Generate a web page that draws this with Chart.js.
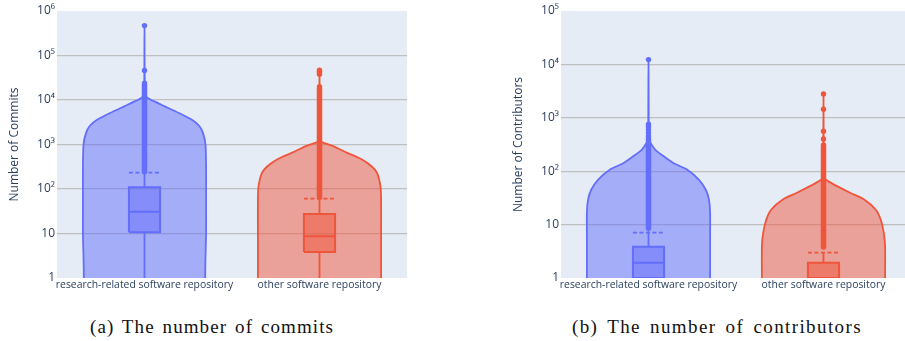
<!DOCTYPE html>
<html>
<head>
<meta charset="utf-8">
<title>Commits and contributors</title>
<script src="https://cdn.jsdelivr.net/npm/chart.js@4.4.0/dist/chart.umd.min.js"></script>
<style>
  html, body { margin: 0; padding: 0; background: #fff; overflow: hidden; width: 905px; height: 341px; }
  .panel { position: absolute; top: 0; width: 420px; height: 300px; }
  #panelA { left: 0; }
  #panelB { left: 504px; }
  .caption {
    position: absolute; top: 316px; transform: translateX(-50%);
    font-family: "Liberation Serif", "DejaVu Serif", serif; font-size: 19px;
    letter-spacing: 1.1px; word-spacing: 2px; color: #111; white-space: nowrap;
  }
</style>
</head>
<body>
<div class="panel" id="panelA"><canvas id="commitsChart" width="420" height="300"></canvas></div>
<div class="panel" id="panelB"><canvas id="contributorsChart" width="420" height="300"></canvas></div>
<div class="caption" style="left:212px">(a) The number of commits</div>
<div class="caption" style="left:717px; letter-spacing:1.4px; word-spacing:3px">(b) The number of contributors</div>

<script>
// categories shared by both panels
const categories = ['research-related software repository', 'other software repository'];

// y-axis ticks
const commitTicks = [1, 10, 100, 1000, 10000, 100000, 1000000];
const contributorTicks = [1, 10, 100, 1000, 10000, 100000];

// violin outlines: value along the axis and relative density (1 = widest)
const commitsResearchKdeValues  = [0.5, 1, 3, 10, 30, 100, 300, 1000, 1800, 2600, 3600, 5100, 7200, 9300, 11000, 12500, 20000, 470000];
const commitsResearchKdeDensity = [0.985, 0.985, 0.99, 1, 1, 1, 1, 0.99, 0.95, 0.89, 0.77, 0.56, 0.33, 0.16, 0.06, 0.015, 0.004, 0];
const commitsOtherKdeValues  = [0.5, 1, 10, 60, 115, 230, 320, 460, 650, 910, 1070, 1200, 3000, 48000];
const commitsOtherKdeDensity = [1, 1, 1, 1, 0.99, 0.935, 0.85, 0.69, 0.45, 0.23, 0.08, 0.02, 0.005, 0];
const contributorsResearchKdeValues  = [0.5, 1, 5, 17, 30, 45, 69, 107, 141, 190, 251, 340, 380, 800, 12300];
const contributorsResearchKdeDensity = [1, 1, 1, 1, 0.98, 0.93, 0.82, 0.63, 0.41, 0.25, 0.11, 0.03, 0.01, 0.004, 0];
const contributorsOtherKdeValues  = [0.5, 1, 3.9, 6.9, 12.3, 19, 29.5, 39, 52.5, 64.5, 74, 150, 2800];
const contributorsOtherKdeDensity = [1, 1, 1, 0.98, 0.93, 0.85, 0.66, 0.44, 0.22, 0.08, 0.02, 0.005, 0];

// box stats: [min, q1, median, q3, upper whisker]
const commitsResearchBox = [1, 10.6, 31, 109, 234];
const commitsOtherBox = [1, 3.84, 8.65, 27.5, 60];
const contributorsResearchBox = [1, 1, 1.94, 3.86, 7.5];
const contributorsOtherBox = [1, 1, 1, 1.94, 3];

// means (dashed line)
const commitsMeans = [234, 60.6];
const contributorsMeans = [7.05, 2.98];

// outliers: dense run [from, to] plus single points above it
const commitsResearchOutlierRun = [245, 22000];
const commitsResearchOutliers = [24000, 46000, 470000];
const commitsOtherOutlierRun = [64, 18000];
const commitsOtherOutliers = [20000, 38000, 41000, 44000, 47000];
const contributorsResearchOutlierRun = [8.5, 400];
const contributorsResearchOutliers = [450, 520, 600, 680, 760, 12300];
const contributorsOtherOutlierRun = [3.8, 290];
const contributorsOtherOutliers = [310, 400, 560, 1450, 2800];

const TEXT = '#2a3f5f';
const PLOT_BG = '#e5ecf6';
const GRID = '#bfbfbf';
const BLUE = '#636efa', BLUE_FILL = 'rgba(99,110,250,0.5)';
const RED = '#ef553b', RED_FILL = 'rgba(239,85,59,0.5)';
const HALF_VIOLIN = 0.352;
const HALF_BOX = 0.089;

const SUP = {'0': '\u2070', '1': '\u00b9', '2': '\u00b2', '3': '\u00b3', '4': '\u2074', '5': '\u2075', '6': '\u2076'};

function powLabel(v) {
    if (v < 100) return String(v);
    const e = String(Math.round(Math.log10(v)));
    return '10' + e.split('').map(d => SUP[d]).join('');
}

function lineSet(points, color, extra) {
    return Object.assign({
        data: points, showLine: true, borderColor: color, borderWidth: 1.8,
        pointRadius: 0, fill: false, tension: 0, clip: 0
    }, extra || {});
}

function violinSets(c, values, density, color, fillColor) {
    const left = values.map((v, i) => ({x: c - density[i] * HALF_VIOLIN, y: v}));
    const right = values.map((v, i) => ({x: c + density[i] * HALF_VIOLIN, y: v})).reverse();
    const outline = left.concat(right.slice(1)).concat([left[0]]);
    return [lineSet(outline, color, {backgroundColor: fillColor, fill: 'shape', tension: 0.22, order: 6})];
}

function boxSets(c, stats, mean, color, fillColor) {
    const [min, q1, med, q3, hi] = stats;
    const l = c - HALF_BOX, r = c + HALF_BOX;
    return [
        lineSet([{x: c, y: min}, {x: c, y: q1}], color, {order: 5}),
        lineSet([{x: c, y: q3}, {x: c, y: hi}], color, {order: 5}),
        lineSet([{x: l, y: q1}, {x: r, y: q1}, {x: r, y: q3}, {x: l, y: q3}, {x: l, y: q1}], color,
                {backgroundColor: fillColor, fill: 'shape', borderWidth: 2, borderJoinStyle: 'miter', order: 4}),
        lineSet([{x: l, y: med}, {x: r, y: med}], color, {borderWidth: 2, order: 3}),
        lineSet([{x: l, y: mean}, {x: r, y: mean}], color, {borderDash: [4, 2.5], order: 3})
    ];
}

function outlierSets(c, run, points, color) {
    return [
        lineSet([{x: c, y: run[0]}, {x: c, y: run[1]}], color, {borderWidth: 5.5, borderCapStyle: 'round', order: 2}),
        {
            data: points.map(v => ({x: c, y: v})), showLine: false,
            pointRadius: 2.7, pointBackgroundColor: color, pointBorderWidth: 0, clip: 0, order: 1
        }
    ];
}

const plotBackground = {
    id: 'plotBackground',
    beforeDraw(chart) {
        const a = chart.chartArea;
        chart.ctx.save();
        chart.ctx.fillStyle = PLOT_BG;
        chart.ctx.fillRect(a.left, a.top, a.right - a.left, a.bottom - a.top);
        chart.ctx.restore();
    }
};

function makeChart(canvasId, title, ticks, datasets) {
    const yMax = ticks[ticks.length - 1];
    return new Chart(document.getElementById(canvasId), {
        type: 'scatter',
        data: { datasets: datasets },
        plugins: [plotBackground],
        options: {
            responsive: false,
            animation: false,
            layout: { padding: { top: 11, right: 13, left: 0, bottom: 0 } },
            plugins: { legend: { display: false }, tooltip: { enabled: false } },
            scales: {
                x: {
                    type: 'linear', min: 0, max: 2,
                    grid: { display: false, drawTicks: false }, border: { display: false },
                    afterBuildTicks: s => { s.ticks = [{value: 0.5}, {value: 1.5}]; },
                    afterFit: s => { s.height = 22; },
                    ticks: {
                        callback: v => categories[Math.floor(v)],
                        color: TEXT, font: { family: '"Open Sans"', size: 10.4 },
                        padding: 1, maxRotation: 0, autoSkip: false
                    }
                },
                y: {
                    type: 'logarithmic', min: 1, max: yMax,
                    border: { display: false },
                    afterBuildTicks: s => { s.ticks = ticks.map(v => ({value: v})); },
                    afterFit: s => { s.width = 57; },
                    grid: {
                        drawTicks: false, lineWidth: 1.3,
                        color: ctx => (ctx.tick && (ctx.tick.value === 1 || ctx.tick.value === yMax)) ? 'rgba(0,0,0,0)' : GRID
                    },
                    ticks: {
                        callback: v => powLabel(v),
                        color: TEXT, font: { family: '"Open Sans"', size: 12 }, padding: 2, autoSkip: false
                    },
                    title: {
                        display: true, text: title, color: TEXT,
                        font: { family: '"Open Sans"', size: 12 }, padding: { top: 7, bottom: 0 }
                    }
                }
            }
        }
    });
}

const commitsData = [].concat(
    violinSets(0.5, commitsResearchKdeValues, commitsResearchKdeDensity, BLUE, BLUE_FILL),
    violinSets(1.5, commitsOtherKdeValues, commitsOtherKdeDensity, RED, RED_FILL),
    boxSets(0.5, commitsResearchBox, commitsMeans[0], BLUE, BLUE_FILL),
    boxSets(1.5, commitsOtherBox, commitsMeans[1], RED, RED_FILL),
    outlierSets(0.5, commitsResearchOutlierRun, commitsResearchOutliers, BLUE),
    outlierSets(1.5, commitsOtherOutlierRun, commitsOtherOutliers, RED)
);

const contributorsData = [].concat(
    violinSets(0.5, contributorsResearchKdeValues, contributorsResearchKdeDensity, BLUE, BLUE_FILL),
    violinSets(1.5, contributorsOtherKdeValues, contributorsOtherKdeDensity, RED, RED_FILL),
    boxSets(0.5, contributorsResearchBox, contributorsMeans[0], BLUE, BLUE_FILL),
    boxSets(1.5, contributorsOtherBox, contributorsMeans[1], RED, RED_FILL),
    outlierSets(0.5, contributorsResearchOutlierRun, contributorsResearchOutliers, BLUE),
    outlierSets(1.5, contributorsOtherOutlierRun, contributorsOtherOutliers, RED)
);

makeChart('commitsChart', 'Number of Commits', commitTicks, commitsData);
makeChart('contributorsChart', 'Number of Contributors', contributorTicks, contributorsData);
</script>
</body>
</html>
